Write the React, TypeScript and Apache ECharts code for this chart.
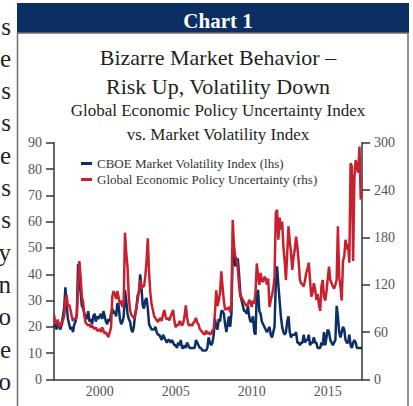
import React, { useEffect, useRef } from "react";
import * as echarts from "echarts";

const startYear = 1997;

// CBOE Market Volatility Index (lhs), monthly, Jan 1997 – Apr 2017
const vixValues = [
  20, 21, 19, 22, 20, 19, 21, 24, 27, 35, 28, 23, // 1997
  21, 19, 20, 18, 21, 22, 25, 44, 38, 33, 28, 27, // 1998
  25, 24, 23, 26, 22, 23, 21, 24, 25, 22, 24, 23, // 1999
  24, 25, 23, 26, 24, 22, 21, 23, 22, 25, 27, 25, // 2000
  26, 24, 29, 28, 23, 21, 22, 24, 34, 30, 25, 23, // 2001
  22, 19, 18, 20, 25, 27, 32, 33, 40, 35, 28, 27, // 2002
  30, 31, 27, 21, 20, 19, 19, 19, 20, 18, 17, 17, // 2003
  16, 15, 17, 16, 15, 14, 15, 15, 14, 15, 14, 13, // 2004
  13, 12, 14, 13, 15, 12, 12, 13, 12, 14, 13, 12, // 2005
  12, 12, 12, 12, 15, 14, 13, 12, 12, 11, 11, 11, // 2006
  11, 12, 16, 14, 13, 14, 17, 23, 20, 19, 23, 22, // 2007
  26, 26, 25, 21, 18, 21, 24, 20, 25, 50, 48, 43, // 2008
  45, 46, 40, 33, 30, 28, 26, 26, 25, 28, 24, 22, // 2009
  22, 24, 18, 17, 33, 34, 26, 25, 22, 21, 20, 19, // 2010
  18, 19, 20, 17, 16, 18, 20, 37, 43, 36, 30, 24, // 2011
  20, 18, 17, 18, 22, 24, 18, 16, 17, 17, 17, 18, // 2012
  14, 14, 13, 14, 14, 17, 14, 15, 15, 17, 13, 14, // 2013
  14, 16, 14, 14, 12, 12, 12, 14, 13, 18, 13, 16, // 2014
  19, 18, 15, 14, 13, 14, 15, 28, 24, 18, 16, 18, // 2015
  20, 19, 15, 14, 14, 17, 13, 12, 14, 15, 14, 12, // 2016
  12, 12, 12, 12, // 2017
];

// Global Economic Policy Uncertainty Index (rhs), monthly, Jan 1997 – Apr 2017
const epuValues = [
  82, 72, 70, 76, 66, 72, 68, 75, 80, 100, 107, 92, // 1997
  95, 88, 80, 74, 78, 76, 80, 120, 150, 130, 104, 98, // 1998
  80, 72, 70, 68, 70, 66, 68, 66, 64, 66, 62, 62, // 1999
  64, 60, 66, 62, 58, 60, 56, 54, 60, 66, 105, 112, // 2000
  108, 102, 112, 104, 95, 100, 92, 98, 186, 160, 143, 105, // 2001
  88, 82, 80, 78, 80, 92, 100, 112, 126, 115, 118, 118, // 2002
  130, 150, 179, 135, 110, 95, 88, 80, 78, 75, 73, 76, // 2003
  78, 74, 82, 88, 80, 76, 78, 75, 80, 84, 88, 74, // 2004
  66, 70, 68, 74, 72, 68, 72, 80, 94, 78, 70, 68, // 2005
  70, 68, 72, 74, 78, 72, 70, 64, 62, 60, 58, 57, // 2006
  62, 58, 60, 57, 58, 62, 64, 84, 113, 93, 100, 110, // 2007
  137, 117, 100, 88, 90, 89, 92, 85, 95, 202, 170, 156, // 2008
  153, 140, 120, 105, 104, 101, 98, 95, 93, 95, 101, 98, // 2009
  92, 100, 96, 110, 147, 131, 120, 135, 125, 124, 130, 128, // 2010
  120, 128, 92, 100, 107, 115, 130, 211, 215, 177, 205, 190, // 2011
  200, 168, 150, 126, 160, 194, 175, 160, 139, 155, 165, 181, // 2012
  168, 150, 126, 122, 120, 118, 125, 135, 140, 148, 126, 105, // 2013
  110, 122, 115, 101, 108, 95, 87, 118, 126, 105, 100, 112, // 2014
  128, 143, 126, 122, 118, 115, 120, 126, 194, 130, 118, 100, // 2015
  150, 156, 177, 165, 172, 148, 274, 270, 150, 255, 278, 270, // 2016
  262, 295, 228, 238, // 2017
];

const xLabelYears = ["2000", "2005", "2010", "2015"];
const seriesNames = [
  "CBOE Market Volatility Index (lhs)",
  "Global Economic Policy Uncertainty (rhs)",
];
const sideLetters = ["s", "e", "s", "s", "e", "s", "s", "y", "n", "o", "e", "o"];

const FONT = '"Liberation Serif", "DejaVu Serif", serif';
const BLUE = "#0d2f66";
const RED = "#c8202f";
const AXIS = "#333333";
const LABEL = "#555555";

export default function App() {
  const ref = useRef<HTMLDivElement>(null);

  useEffect(() => {
    if (!ref.current) return;
    const chart = echarts.init(ref.current, undefined, { renderer: "svg" });

    const categories: string[] = [];
    for (let i = 0; i < vixValues.length; i++) {
      const y = startYear + Math.floor(i / 12);
      const m = (i % 12) + 1;
      categories.push(`${y}-${m < 10 ? "0" + m : m}`);
    }

    const yAxisCommon = {
      type: "value",
      axisLine: { show: true, lineStyle: { color: AXIS, width: 1.5 } },
      axisTick: { show: true, length: 8, lineStyle: { color: AXIS, width: 1.5 } },
      splitLine: { show: false },
      axisLabel: { color: LABEL, fontSize: 14, margin: 12, fontFamily: FONT },
    };

    const letterEls = sideLetters.map((t, i) => ({
      type: "text",
      style: {
        text: t,
        x: 11,
        y: 26 + 32.3 * i,
        align: "right",
        verticalAlign: "middle",
        fontSize: 25,
        fontFamily: FONT,
        fill: "#231f20",
      },
    }));

    chart.setOption({
      animation: false,
      backgroundColor: "#ffffff",
      textStyle: { fontFamily: FONT },
      title: [
        {
          text: "Chart 1",
          left: 213,
          top: 5,
          textAlign: "center",
          textStyle: { color: "#ffffff", fontSize: 21, fontWeight: "bold", fontFamily: FONT },
        },
        {
          text: "Bizarre Market Behavior –\nRisk Up, Volatility Down",
          left: 213,
          top: 38,
          textAlign: "center",
          textStyle: { color: "#231f20", fontSize: 22, lineHeight: 29, fontWeight: "normal", fontFamily: FONT },
        },
        {
          text: "Global Economic Policy Uncertainty Index\nvs. Market Volatility Index",
          left: 213,
          top: 93,
          textAlign: "center",
          textStyle: { color: "#231f20", fontSize: 17, lineHeight: 24, fontWeight: "normal", fontFamily: FONT },
        },
      ],
      graphic: [
        {
          type: "rect",
          z: 0,
          shape: { x: 17, y: 3, width: 392, height: 30 },
          style: { fill: "#0c2f63" },
        },
        {
          type: "rect",
          z: 0,
          shape: { x: 17.5, y: 33, width: 390.5, height: 400 },
          style: { fill: "none", stroke: "#707070", lineWidth: 1.5 },
        },
        ...letterEls,
      ],
      legend: {
        orient: "vertical",
        left: 76,
        top: 152,
        icon: "rect",
        itemWidth: 11,
        itemHeight: 3,
        itemGap: 3,
        textStyle: { color: "#333333", fontSize: 13, lineHeight: 13, fontFamily: FONT },
        data: seriesNames,
      },
      grid: { left: 54, right: 51, top: 142.7, bottom: 26.5, containLabel: false },
      xAxis: {
        type: "category",
        boundaryGap: false,
        data: categories,
        axisLine: { show: true, lineStyle: { color: AXIS, width: 1.5 } },
        axisTick: { show: false },
        splitLine: { show: false },
        axisLabel: {
          interval: (_i: number, v: string) => v.endsWith("-01") && xLabelYears.includes(v.slice(0, 4)),
          formatter: (v: string) => v.slice(0, 4),
          color: LABEL,
          fontSize: 14,
          margin: 5,
          fontFamily: FONT,
        },
      },
      yAxis: [
        { ...yAxisCommon, position: "left", min: 0, max: 90, interval: 10 },
        { ...yAxisCommon, position: "right", min: 0, max: 300, interval: 60 },
      ],
      series: [
        {
          name: seriesNames[0],
          type: "line",
          yAxisIndex: 0,
          data: vixValues,
          symbol: "none",
          lineStyle: { color: BLUE, width: 2.5 },
          itemStyle: { color: BLUE },
          z: 2,
        },
        {
          name: seriesNames[1],
          type: "line",
          yAxisIndex: 1,
          data: epuValues,
          symbol: "none",
          lineStyle: { color: RED, width: 2.5 },
          itemStyle: { color: RED },
          z: 3,
        },
      ],
    });

    return () => chart.dispose();
  }, []);

  return (
    <div
      ref={ref}
      style={{ position: "absolute", left: 0, top: 0, width: 413, height: 406, background: "#fff" }}
    />
  );
}
